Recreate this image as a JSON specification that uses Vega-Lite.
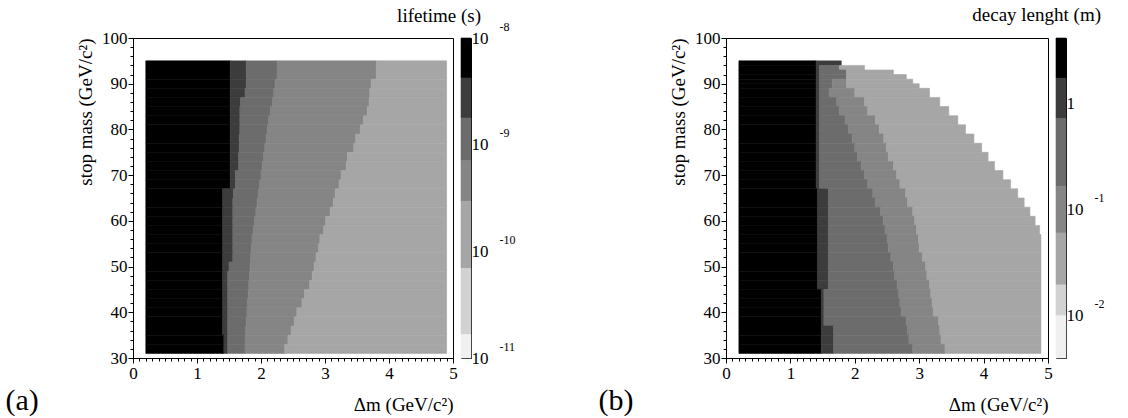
{
  "$schema": "https://vega.github.io/schema/vega-lite/v6.json",
  "background": "white",
  "padding": 5,
  "config": {
    "font": "Liberation Serif",
    "view": {"stroke": "#000", "strokeWidth": 1},
    "axis": {"labelFont": "Liberation Serif", "titleFont": "Liberation Serif", "labelColor": "#000", "titleColor": "#000", "domainColor": "#000", "tickColor": "#000", "grid": false, "titleFontWeight": "normal", "labelFontSize": 17, "titleFontSize": 19},
    "title": {"font": "Liberation Serif", "fontWeight": "normal", "color": "#000"}
  },
  "datasets": {
    "cells": [
      {"p":"a","m1":93,"m2":95,"x1":0.2,"x2":1.52,"l":1},{"p":"a","m1":93,"m2":95,"x1":1.52,"x2":1.77,"l":2},{"p":"a","m1":93,"m2":95,"x1":1.77,"x2":2.25,"l":3},{"p":"a","m1":93,"m2":95,"x1":2.25,"x2":3.8,"l":4},{"p":"a","m1":93,"m2":95,"x1":3.8,"x2":4.9,"l":5},
      {"p":"a","m1":91,"m2":93,"x1":0.2,"x2":1.52,"l":1},{"p":"a","m1":91,"m2":93,"x1":1.52,"x2":1.77,"l":2},{"p":"a","m1":91,"m2":93,"x1":1.77,"x2":2.25,"l":3},{"p":"a","m1":91,"m2":93,"x1":2.25,"x2":3.8,"l":4},{"p":"a","m1":91,"m2":93,"x1":3.8,"x2":4.9,"l":5},
      {"p":"a","m1":89,"m2":91,"x1":0.2,"x2":1.52,"l":1},{"p":"a","m1":89,"m2":91,"x1":1.52,"x2":1.77,"l":2},{"p":"a","m1":89,"m2":91,"x1":1.77,"x2":2.22,"l":3},{"p":"a","m1":89,"m2":91,"x1":2.22,"x2":3.72,"l":4},{"p":"a","m1":89,"m2":91,"x1":3.72,"x2":4.9,"l":5},
      {"p":"a","m1":87,"m2":89,"x1":0.2,"x2":1.52,"l":1},{"p":"a","m1":87,"m2":89,"x1":1.52,"x2":1.75,"l":2},{"p":"a","m1":87,"m2":89,"x1":1.75,"x2":2.2,"l":3},{"p":"a","m1":87,"m2":89,"x1":2.2,"x2":3.7,"l":4},{"p":"a","m1":87,"m2":89,"x1":3.7,"x2":4.9,"l":5},
      {"p":"a","m1":85,"m2":87,"x1":0.2,"x2":1.52,"l":1},{"p":"a","m1":85,"m2":87,"x1":1.52,"x2":1.68,"l":2},{"p":"a","m1":85,"m2":87,"x1":1.68,"x2":2.18,"l":3},{"p":"a","m1":85,"m2":87,"x1":2.18,"x2":3.69,"l":4},{"p":"a","m1":85,"m2":87,"x1":3.69,"x2":4.9,"l":5},
      {"p":"a","m1":83,"m2":85,"x1":0.2,"x2":1.52,"l":1},{"p":"a","m1":83,"m2":85,"x1":1.52,"x2":1.67,"l":2},{"p":"a","m1":83,"m2":85,"x1":1.67,"x2":2.15,"l":3},{"p":"a","m1":83,"m2":85,"x1":2.15,"x2":3.66,"l":4},{"p":"a","m1":83,"m2":85,"x1":3.66,"x2":4.9,"l":5},
      {"p":"a","m1":81,"m2":83,"x1":0.2,"x2":1.52,"l":1},{"p":"a","m1":81,"m2":83,"x1":1.52,"x2":1.67,"l":2},{"p":"a","m1":81,"m2":83,"x1":1.67,"x2":2.12,"l":3},{"p":"a","m1":81,"m2":83,"x1":2.12,"x2":3.6,"l":4},{"p":"a","m1":81,"m2":83,"x1":3.6,"x2":4.9,"l":5},
      {"p":"a","m1":79,"m2":81,"x1":0.2,"x2":1.52,"l":1},{"p":"a","m1":79,"m2":81,"x1":1.52,"x2":1.67,"l":2},{"p":"a","m1":79,"m2":81,"x1":1.67,"x2":2.1,"l":3},{"p":"a","m1":79,"m2":81,"x1":2.1,"x2":3.55,"l":4},{"p":"a","m1":79,"m2":81,"x1":3.55,"x2":4.9,"l":5},
      {"p":"a","m1":77,"m2":79,"x1":0.2,"x2":1.52,"l":1},{"p":"a","m1":77,"m2":79,"x1":1.52,"x2":1.66,"l":2},{"p":"a","m1":77,"m2":79,"x1":1.66,"x2":2.08,"l":3},{"p":"a","m1":77,"m2":79,"x1":2.08,"x2":3.48,"l":4},{"p":"a","m1":77,"m2":79,"x1":3.48,"x2":4.9,"l":5},
      {"p":"a","m1":75,"m2":77,"x1":0.2,"x2":1.52,"l":1},{"p":"a","m1":75,"m2":77,"x1":1.52,"x2":1.66,"l":2},{"p":"a","m1":75,"m2":77,"x1":1.66,"x2":2.06,"l":3},{"p":"a","m1":75,"m2":77,"x1":2.06,"x2":3.45,"l":4},{"p":"a","m1":75,"m2":77,"x1":3.45,"x2":4.9,"l":5},
      {"p":"a","m1":73,"m2":75,"x1":0.2,"x2":1.52,"l":1},{"p":"a","m1":73,"m2":75,"x1":1.52,"x2":1.65,"l":2},{"p":"a","m1":73,"m2":75,"x1":1.65,"x2":2.04,"l":3},{"p":"a","m1":73,"m2":75,"x1":2.04,"x2":3.35,"l":4},{"p":"a","m1":73,"m2":75,"x1":3.35,"x2":4.9,"l":5},
      {"p":"a","m1":71,"m2":73,"x1":0.2,"x2":1.52,"l":1},{"p":"a","m1":71,"m2":73,"x1":1.52,"x2":1.65,"l":2},{"p":"a","m1":71,"m2":73,"x1":1.65,"x2":2.02,"l":3},{"p":"a","m1":71,"m2":73,"x1":2.02,"x2":3.33,"l":4},{"p":"a","m1":71,"m2":73,"x1":3.33,"x2":4.9,"l":5},
      {"p":"a","m1":69,"m2":71,"x1":0.2,"x2":1.52,"l":1},{"p":"a","m1":69,"m2":71,"x1":1.52,"x2":1.6,"l":2},{"p":"a","m1":69,"m2":71,"x1":1.6,"x2":2.0,"l":3},{"p":"a","m1":69,"m2":71,"x1":2.0,"x2":3.25,"l":4},{"p":"a","m1":69,"m2":71,"x1":3.25,"x2":4.9,"l":5},
      {"p":"a","m1":67,"m2":69,"x1":0.2,"x2":1.52,"l":1},{"p":"a","m1":67,"m2":69,"x1":1.52,"x2":1.6,"l":2},{"p":"a","m1":67,"m2":69,"x1":1.6,"x2":1.98,"l":3},{"p":"a","m1":67,"m2":69,"x1":1.98,"x2":3.22,"l":4},{"p":"a","m1":67,"m2":69,"x1":3.22,"x2":4.9,"l":5},
      {"p":"a","m1":65,"m2":67,"x1":0.2,"x2":1.4,"l":1},{"p":"a","m1":65,"m2":67,"x1":1.4,"x2":1.57,"l":2},{"p":"a","m1":65,"m2":67,"x1":1.57,"x2":1.96,"l":3},{"p":"a","m1":65,"m2":67,"x1":1.96,"x2":3.16,"l":4},{"p":"a","m1":65,"m2":67,"x1":3.16,"x2":4.9,"l":5},
      {"p":"a","m1":63,"m2":65,"x1":0.2,"x2":1.4,"l":1},{"p":"a","m1":63,"m2":65,"x1":1.4,"x2":1.56,"l":2},{"p":"a","m1":63,"m2":65,"x1":1.56,"x2":1.94,"l":3},{"p":"a","m1":63,"m2":65,"x1":1.94,"x2":3.13,"l":4},{"p":"a","m1":63,"m2":65,"x1":3.13,"x2":4.9,"l":5},
      {"p":"a","m1":61,"m2":63,"x1":0.2,"x2":1.4,"l":1},{"p":"a","m1":61,"m2":63,"x1":1.4,"x2":1.56,"l":2},{"p":"a","m1":61,"m2":63,"x1":1.56,"x2":1.92,"l":3},{"p":"a","m1":61,"m2":63,"x1":1.92,"x2":3.08,"l":4},{"p":"a","m1":61,"m2":63,"x1":3.08,"x2":4.9,"l":5},
      {"p":"a","m1":59,"m2":61,"x1":0.2,"x2":1.4,"l":1},{"p":"a","m1":59,"m2":61,"x1":1.4,"x2":1.56,"l":2},{"p":"a","m1":59,"m2":61,"x1":1.56,"x2":1.9,"l":3},{"p":"a","m1":59,"m2":61,"x1":1.9,"x2":3.01,"l":4},{"p":"a","m1":59,"m2":61,"x1":3.01,"x2":4.9,"l":5},
      {"p":"a","m1":57,"m2":59,"x1":0.2,"x2":1.4,"l":1},{"p":"a","m1":57,"m2":59,"x1":1.4,"x2":1.56,"l":2},{"p":"a","m1":57,"m2":59,"x1":1.56,"x2":1.88,"l":3},{"p":"a","m1":57,"m2":59,"x1":1.88,"x2":2.98,"l":4},{"p":"a","m1":57,"m2":59,"x1":2.98,"x2":4.9,"l":5},
      {"p":"a","m1":55,"m2":57,"x1":0.2,"x2":1.4,"l":1},{"p":"a","m1":55,"m2":57,"x1":1.4,"x2":1.56,"l":2},{"p":"a","m1":55,"m2":57,"x1":1.56,"x2":1.86,"l":3},{"p":"a","m1":55,"m2":57,"x1":1.86,"x2":2.92,"l":4},{"p":"a","m1":55,"m2":57,"x1":2.92,"x2":4.9,"l":5},
      {"p":"a","m1":53,"m2":55,"x1":0.2,"x2":1.4,"l":1},{"p":"a","m1":53,"m2":55,"x1":1.4,"x2":1.56,"l":2},{"p":"a","m1":53,"m2":55,"x1":1.56,"x2":1.85,"l":3},{"p":"a","m1":53,"m2":55,"x1":1.85,"x2":2.9,"l":4},{"p":"a","m1":53,"m2":55,"x1":2.9,"x2":4.9,"l":5},
      {"p":"a","m1":51,"m2":53,"x1":0.2,"x2":1.4,"l":1},{"p":"a","m1":51,"m2":53,"x1":1.4,"x2":1.56,"l":2},{"p":"a","m1":51,"m2":53,"x1":1.56,"x2":1.84,"l":3},{"p":"a","m1":51,"m2":53,"x1":1.84,"x2":2.86,"l":4},{"p":"a","m1":51,"m2":53,"x1":2.86,"x2":4.9,"l":5},
      {"p":"a","m1":49,"m2":51,"x1":0.2,"x2":1.4,"l":1},{"p":"a","m1":49,"m2":51,"x1":1.4,"x2":1.5,"l":2},{"p":"a","m1":49,"m2":51,"x1":1.5,"x2":1.83,"l":3},{"p":"a","m1":49,"m2":51,"x1":1.83,"x2":2.83,"l":4},{"p":"a","m1":49,"m2":51,"x1":2.83,"x2":4.9,"l":5},
      {"p":"a","m1":47,"m2":49,"x1":0.2,"x2":1.4,"l":1},{"p":"a","m1":47,"m2":49,"x1":1.4,"x2":1.48,"l":2},{"p":"a","m1":47,"m2":49,"x1":1.48,"x2":1.82,"l":3},{"p":"a","m1":47,"m2":49,"x1":1.82,"x2":2.8,"l":4},{"p":"a","m1":47,"m2":49,"x1":2.8,"x2":4.9,"l":5},
      {"p":"a","m1":45,"m2":47,"x1":0.2,"x2":1.4,"l":1},{"p":"a","m1":45,"m2":47,"x1":1.4,"x2":1.48,"l":2},{"p":"a","m1":45,"m2":47,"x1":1.48,"x2":1.81,"l":3},{"p":"a","m1":45,"m2":47,"x1":1.81,"x2":2.76,"l":4},{"p":"a","m1":45,"m2":47,"x1":2.76,"x2":4.9,"l":5},
      {"p":"a","m1":43,"m2":45,"x1":0.2,"x2":1.4,"l":1},{"p":"a","m1":43,"m2":45,"x1":1.4,"x2":1.48,"l":2},{"p":"a","m1":43,"m2":45,"x1":1.48,"x2":1.8,"l":3},{"p":"a","m1":43,"m2":45,"x1":1.8,"x2":2.68,"l":4},{"p":"a","m1":43,"m2":45,"x1":2.68,"x2":4.9,"l":5},
      {"p":"a","m1":41,"m2":43,"x1":0.2,"x2":1.4,"l":1},{"p":"a","m1":41,"m2":43,"x1":1.4,"x2":1.48,"l":2},{"p":"a","m1":41,"m2":43,"x1":1.48,"x2":1.79,"l":3},{"p":"a","m1":41,"m2":43,"x1":1.79,"x2":2.64,"l":4},{"p":"a","m1":41,"m2":43,"x1":2.64,"x2":4.9,"l":5},
      {"p":"a","m1":39,"m2":41,"x1":0.2,"x2":1.4,"l":1},{"p":"a","m1":39,"m2":41,"x1":1.4,"x2":1.48,"l":2},{"p":"a","m1":39,"m2":41,"x1":1.48,"x2":1.78,"l":3},{"p":"a","m1":39,"m2":41,"x1":1.78,"x2":2.56,"l":4},{"p":"a","m1":39,"m2":41,"x1":2.56,"x2":4.9,"l":5},
      {"p":"a","m1":37,"m2":39,"x1":0.2,"x2":1.4,"l":1},{"p":"a","m1":37,"m2":39,"x1":1.4,"x2":1.48,"l":2},{"p":"a","m1":37,"m2":39,"x1":1.48,"x2":1.77,"l":3},{"p":"a","m1":37,"m2":39,"x1":1.77,"x2":2.52,"l":4},{"p":"a","m1":37,"m2":39,"x1":2.52,"x2":4.9,"l":5},
      {"p":"a","m1":35,"m2":37,"x1":0.2,"x2":1.4,"l":1},{"p":"a","m1":35,"m2":37,"x1":1.4,"x2":1.48,"l":2},{"p":"a","m1":35,"m2":37,"x1":1.48,"x2":1.76,"l":3},{"p":"a","m1":35,"m2":37,"x1":1.76,"x2":2.47,"l":4},{"p":"a","m1":35,"m2":37,"x1":2.47,"x2":4.9,"l":5},
      {"p":"a","m1":33,"m2":35,"x1":0.2,"x2":1.42,"l":1},{"p":"a","m1":33,"m2":35,"x1":1.42,"x2":1.48,"l":2},{"p":"a","m1":33,"m2":35,"x1":1.48,"x2":1.75,"l":3},{"p":"a","m1":33,"m2":35,"x1":1.75,"x2":2.42,"l":4},{"p":"a","m1":33,"m2":35,"x1":2.42,"x2":4.9,"l":5},
      {"p":"a","m1":31,"m2":33,"x1":0.2,"x2":1.42,"l":1},{"p":"a","m1":31,"m2":33,"x1":1.42,"x2":1.48,"l":2},{"p":"a","m1":31,"m2":33,"x1":1.48,"x2":1.75,"l":3},{"p":"a","m1":31,"m2":33,"x1":1.75,"x2":2.37,"l":4},{"p":"a","m1":31,"m2":33,"x1":2.37,"x2":4.9,"l":5},

      {"p":"b","m1":94,"m2":95,"x1":0.2,"x2":1.4,"l":1},{"p":"b","m1":94,"m2":95,"x1":1.4,"x2":1.79,"l":2},
      {"p":"b","m1":93,"m2":94,"x1":0.2,"x2":1.4,"l":1},{"p":"b","m1":93,"m2":94,"x1":1.4,"x2":1.45,"l":2},{"p":"b","m1":93,"m2":94,"x1":1.45,"x2":1.76,"l":3},{"p":"b","m1":93,"m2":94,"x1":1.76,"x2":2.15,"l":5},
      {"p":"b","m1":92,"m2":93,"x1":0.2,"x2":1.4,"l":1},{"p":"b","m1":92,"m2":93,"x1":1.4,"x2":1.45,"l":2},{"p":"b","m1":92,"m2":93,"x1":1.45,"x2":1.87,"l":3},{"p":"b","m1":92,"m2":93,"x1":1.87,"x2":2.6,"l":5},
      {"p":"b","m1":91,"m2":92,"x1":0.2,"x2":1.4,"l":1},{"p":"b","m1":91,"m2":92,"x1":1.4,"x2":1.45,"l":2},{"p":"b","m1":91,"m2":92,"x1":1.45,"x2":1.87,"l":3},{"p":"b","m1":91,"m2":92,"x1":1.87,"x2":2.8,"l":5},
      {"p":"b","m1":90,"m2":91,"x1":0.2,"x2":1.4,"l":1},{"p":"b","m1":90,"m2":91,"x1":1.4,"x2":1.45,"l":2},{"p":"b","m1":90,"m2":91,"x1":1.45,"x2":1.65,"l":3},{"p":"b","m1":90,"m2":91,"x1":1.65,"x2":1.87,"l":4},{"p":"b","m1":90,"m2":91,"x1":1.87,"x2":2.9,"l":5},
      {"p":"b","m1":89,"m2":90,"x1":0.2,"x2":1.4,"l":1},{"p":"b","m1":89,"m2":90,"x1":1.4,"x2":1.45,"l":2},{"p":"b","m1":89,"m2":90,"x1":1.45,"x2":1.65,"l":3},{"p":"b","m1":89,"m2":90,"x1":1.65,"x2":1.87,"l":4},{"p":"b","m1":89,"m2":90,"x1":1.87,"x2":3.0,"l":5},
      {"p":"b","m1":87,"m2":89,"x1":0.2,"x2":1.4,"l":1},{"p":"b","m1":87,"m2":89,"x1":1.4,"x2":1.45,"l":2},{"p":"b","m1":87,"m2":89,"x1":1.45,"x2":1.6,"l":3},{"p":"b","m1":87,"m2":89,"x1":1.6,"x2":2.0,"l":4},{"p":"b","m1":87,"m2":89,"x1":2.0,"x2":3.16,"l":5},
      {"p":"b","m1":85,"m2":87,"x1":0.2,"x2":1.4,"l":1},{"p":"b","m1":85,"m2":87,"x1":1.4,"x2":1.45,"l":2},{"p":"b","m1":85,"m2":87,"x1":1.45,"x2":1.72,"l":3},{"p":"b","m1":85,"m2":87,"x1":1.72,"x2":2.15,"l":4},{"p":"b","m1":85,"m2":87,"x1":2.15,"x2":3.32,"l":5},
      {"p":"b","m1":83,"m2":85,"x1":0.2,"x2":1.4,"l":1},{"p":"b","m1":83,"m2":85,"x1":1.4,"x2":1.45,"l":2},{"p":"b","m1":83,"m2":85,"x1":1.45,"x2":1.76,"l":3},{"p":"b","m1":83,"m2":85,"x1":1.76,"x2":2.2,"l":4},{"p":"b","m1":83,"m2":85,"x1":2.2,"x2":3.46,"l":5},
      {"p":"b","m1":81,"m2":83,"x1":0.2,"x2":1.4,"l":1},{"p":"b","m1":81,"m2":83,"x1":1.4,"x2":1.45,"l":2},{"p":"b","m1":81,"m2":83,"x1":1.45,"x2":1.85,"l":3},{"p":"b","m1":81,"m2":83,"x1":1.85,"x2":2.32,"l":4},{"p":"b","m1":81,"m2":83,"x1":2.32,"x2":3.6,"l":5},
      {"p":"b","m1":79,"m2":81,"x1":0.2,"x2":1.4,"l":1},{"p":"b","m1":79,"m2":81,"x1":1.4,"x2":1.45,"l":2},{"p":"b","m1":79,"m2":81,"x1":1.45,"x2":1.9,"l":3},{"p":"b","m1":79,"m2":81,"x1":1.9,"x2":2.38,"l":4},{"p":"b","m1":79,"m2":81,"x1":2.38,"x2":3.72,"l":5},
      {"p":"b","m1":77,"m2":79,"x1":0.2,"x2":1.4,"l":1},{"p":"b","m1":77,"m2":79,"x1":1.4,"x2":1.45,"l":2},{"p":"b","m1":77,"m2":79,"x1":1.45,"x2":1.96,"l":3},{"p":"b","m1":77,"m2":79,"x1":1.96,"x2":2.45,"l":4},{"p":"b","m1":77,"m2":79,"x1":2.45,"x2":3.85,"l":5},
      {"p":"b","m1":75,"m2":77,"x1":0.2,"x2":1.4,"l":1},{"p":"b","m1":75,"m2":77,"x1":1.4,"x2":1.45,"l":2},{"p":"b","m1":75,"m2":77,"x1":1.45,"x2":2.0,"l":3},{"p":"b","m1":75,"m2":77,"x1":2.0,"x2":2.49,"l":4},{"p":"b","m1":75,"m2":77,"x1":2.49,"x2":3.97,"l":5},
      {"p":"b","m1":73,"m2":75,"x1":0.2,"x2":1.4,"l":1},{"p":"b","m1":73,"m2":75,"x1":1.4,"x2":1.45,"l":2},{"p":"b","m1":73,"m2":75,"x1":1.45,"x2":2.04,"l":3},{"p":"b","m1":73,"m2":75,"x1":2.04,"x2":2.52,"l":4},{"p":"b","m1":73,"m2":75,"x1":2.52,"x2":4.07,"l":5},
      {"p":"b","m1":71,"m2":73,"x1":0.2,"x2":1.4,"l":1},{"p":"b","m1":71,"m2":73,"x1":1.4,"x2":1.45,"l":2},{"p":"b","m1":71,"m2":73,"x1":1.45,"x2":2.1,"l":3},{"p":"b","m1":71,"m2":73,"x1":2.1,"x2":2.6,"l":4},{"p":"b","m1":71,"m2":73,"x1":2.6,"x2":4.17,"l":5},
      {"p":"b","m1":69,"m2":71,"x1":0.2,"x2":1.4,"l":1},{"p":"b","m1":69,"m2":71,"x1":1.4,"x2":1.45,"l":2},{"p":"b","m1":69,"m2":71,"x1":1.45,"x2":2.15,"l":3},{"p":"b","m1":69,"m2":71,"x1":2.15,"x2":2.65,"l":4},{"p":"b","m1":69,"m2":71,"x1":2.65,"x2":4.3,"l":5},
      {"p":"b","m1":67,"m2":69,"x1":0.2,"x2":1.4,"l":1},{"p":"b","m1":67,"m2":69,"x1":1.4,"x2":1.45,"l":2},{"p":"b","m1":67,"m2":69,"x1":1.45,"x2":2.2,"l":3},{"p":"b","m1":67,"m2":69,"x1":2.2,"x2":2.7,"l":4},{"p":"b","m1":67,"m2":69,"x1":2.7,"x2":4.42,"l":5},
      {"p":"b","m1":65,"m2":67,"x1":0.2,"x2":1.42,"l":1},{"p":"b","m1":65,"m2":67,"x1":1.42,"x2":1.59,"l":2},{"p":"b","m1":65,"m2":67,"x1":1.59,"x2":2.28,"l":3},{"p":"b","m1":65,"m2":67,"x1":2.28,"x2":2.79,"l":4},{"p":"b","m1":65,"m2":67,"x1":2.79,"x2":4.53,"l":5},
      {"p":"b","m1":63,"m2":65,"x1":0.2,"x2":1.42,"l":1},{"p":"b","m1":63,"m2":65,"x1":1.42,"x2":1.59,"l":2},{"p":"b","m1":63,"m2":65,"x1":1.59,"x2":2.32,"l":3},{"p":"b","m1":63,"m2":65,"x1":2.32,"x2":2.82,"l":4},{"p":"b","m1":63,"m2":65,"x1":2.82,"x2":4.63,"l":5},
      {"p":"b","m1":61,"m2":63,"x1":0.2,"x2":1.42,"l":1},{"p":"b","m1":61,"m2":63,"x1":1.42,"x2":1.59,"l":2},{"p":"b","m1":61,"m2":63,"x1":1.59,"x2":2.4,"l":3},{"p":"b","m1":61,"m2":63,"x1":2.4,"x2":2.9,"l":4},{"p":"b","m1":61,"m2":63,"x1":2.9,"x2":4.72,"l":5},
      {"p":"b","m1":59,"m2":61,"x1":0.2,"x2":1.42,"l":1},{"p":"b","m1":59,"m2":61,"x1":1.42,"x2":1.59,"l":2},{"p":"b","m1":59,"m2":61,"x1":1.59,"x2":2.44,"l":3},{"p":"b","m1":59,"m2":61,"x1":2.44,"x2":2.93,"l":4},{"p":"b","m1":59,"m2":61,"x1":2.93,"x2":4.8,"l":5},
      {"p":"b","m1":57,"m2":59,"x1":0.2,"x2":1.42,"l":1},{"p":"b","m1":57,"m2":59,"x1":1.42,"x2":1.59,"l":2},{"p":"b","m1":57,"m2":59,"x1":1.59,"x2":2.47,"l":3},{"p":"b","m1":57,"m2":59,"x1":2.47,"x2":2.96,"l":4},{"p":"b","m1":57,"m2":59,"x1":2.96,"x2":4.87,"l":5},
      {"p":"b","m1":55,"m2":57,"x1":0.2,"x2":1.42,"l":1},{"p":"b","m1":55,"m2":57,"x1":1.42,"x2":1.59,"l":2},{"p":"b","m1":55,"m2":57,"x1":1.59,"x2":2.5,"l":3},{"p":"b","m1":55,"m2":57,"x1":2.5,"x2":2.99,"l":4},{"p":"b","m1":55,"m2":57,"x1":2.99,"x2":4.89,"l":5},
      {"p":"b","m1":53,"m2":55,"x1":0.2,"x2":1.42,"l":1},{"p":"b","m1":53,"m2":55,"x1":1.42,"x2":1.59,"l":2},{"p":"b","m1":53,"m2":55,"x1":1.59,"x2":2.52,"l":3},{"p":"b","m1":53,"m2":55,"x1":2.52,"x2":3.0,"l":4},{"p":"b","m1":53,"m2":55,"x1":3.0,"x2":4.89,"l":5},
      {"p":"b","m1":51,"m2":53,"x1":0.2,"x2":1.42,"l":1},{"p":"b","m1":51,"m2":53,"x1":1.42,"x2":1.59,"l":2},{"p":"b","m1":51,"m2":53,"x1":1.59,"x2":2.56,"l":3},{"p":"b","m1":51,"m2":53,"x1":2.56,"x2":3.05,"l":4},{"p":"b","m1":51,"m2":53,"x1":3.05,"x2":4.89,"l":5},
      {"p":"b","m1":49,"m2":51,"x1":0.2,"x2":1.42,"l":1},{"p":"b","m1":49,"m2":51,"x1":1.42,"x2":1.59,"l":2},{"p":"b","m1":49,"m2":51,"x1":1.59,"x2":2.6,"l":3},{"p":"b","m1":49,"m2":51,"x1":2.6,"x2":3.1,"l":4},{"p":"b","m1":49,"m2":51,"x1":3.1,"x2":4.89,"l":5},
      {"p":"b","m1":47,"m2":49,"x1":0.2,"x2":1.42,"l":1},{"p":"b","m1":47,"m2":49,"x1":1.42,"x2":1.59,"l":2},{"p":"b","m1":47,"m2":49,"x1":1.59,"x2":2.62,"l":3},{"p":"b","m1":47,"m2":49,"x1":2.62,"x2":3.12,"l":4},{"p":"b","m1":47,"m2":49,"x1":3.12,"x2":4.89,"l":5},
      {"p":"b","m1":45,"m2":47,"x1":0.2,"x2":1.42,"l":1},{"p":"b","m1":45,"m2":47,"x1":1.42,"x2":1.59,"l":2},{"p":"b","m1":45,"m2":47,"x1":1.59,"x2":2.66,"l":3},{"p":"b","m1":45,"m2":47,"x1":2.66,"x2":3.16,"l":4},{"p":"b","m1":45,"m2":47,"x1":3.16,"x2":4.89,"l":5},
      {"p":"b","m1":43,"m2":45,"x1":0.2,"x2":1.48,"l":1},{"p":"b","m1":43,"m2":45,"x1":1.48,"x2":1.52,"l":2},{"p":"b","m1":43,"m2":45,"x1":1.52,"x2":2.68,"l":3},{"p":"b","m1":43,"m2":45,"x1":2.68,"x2":3.18,"l":4},{"p":"b","m1":43,"m2":45,"x1":3.18,"x2":4.89,"l":5},
      {"p":"b","m1":41,"m2":43,"x1":0.2,"x2":1.48,"l":1},{"p":"b","m1":41,"m2":43,"x1":1.48,"x2":1.52,"l":2},{"p":"b","m1":41,"m2":43,"x1":1.52,"x2":2.7,"l":3},{"p":"b","m1":41,"m2":43,"x1":2.7,"x2":3.2,"l":4},{"p":"b","m1":41,"m2":43,"x1":3.2,"x2":4.89,"l":5},
      {"p":"b","m1":39,"m2":41,"x1":0.2,"x2":1.48,"l":1},{"p":"b","m1":39,"m2":41,"x1":1.48,"x2":1.52,"l":2},{"p":"b","m1":39,"m2":41,"x1":1.52,"x2":2.72,"l":3},{"p":"b","m1":39,"m2":41,"x1":2.72,"x2":3.22,"l":4},{"p":"b","m1":39,"m2":41,"x1":3.22,"x2":4.89,"l":5},
      {"p":"b","m1":37,"m2":39,"x1":0.2,"x2":1.48,"l":1},{"p":"b","m1":37,"m2":39,"x1":1.48,"x2":1.52,"l":2},{"p":"b","m1":37,"m2":39,"x1":1.52,"x2":2.8,"l":3},{"p":"b","m1":37,"m2":39,"x1":2.8,"x2":3.3,"l":4},{"p":"b","m1":37,"m2":39,"x1":3.3,"x2":4.89,"l":5},
      {"p":"b","m1":35,"m2":37,"x1":0.2,"x2":1.48,"l":1},{"p":"b","m1":35,"m2":37,"x1":1.48,"x2":1.67,"l":2},{"p":"b","m1":35,"m2":37,"x1":1.67,"x2":2.82,"l":3},{"p":"b","m1":35,"m2":37,"x1":2.82,"x2":3.32,"l":4},{"p":"b","m1":35,"m2":37,"x1":3.32,"x2":4.89,"l":5},
      {"p":"b","m1":33,"m2":35,"x1":0.2,"x2":1.48,"l":1},{"p":"b","m1":33,"m2":35,"x1":1.48,"x2":1.67,"l":2},{"p":"b","m1":33,"m2":35,"x1":1.67,"x2":2.84,"l":3},{"p":"b","m1":33,"m2":35,"x1":2.84,"x2":3.34,"l":4},{"p":"b","m1":33,"m2":35,"x1":3.34,"x2":4.89,"l":5},
      {"p":"b","m1":31,"m2":33,"x1":0.2,"x2":1.48,"l":1},{"p":"b","m1":31,"m2":33,"x1":1.48,"x2":1.67,"l":2},{"p":"b","m1":31,"m2":33,"x1":1.67,"x2":2.9,"l":3},{"p":"b","m1":31,"m2":33,"x1":2.9,"x2":3.4,"l":4},{"p":"b","m1":31,"m2":33,"x1":3.4,"x2":4.89,"l":5}
    ],
    "bar": [
      {"p":"a","lo":-8.375,"hi":-8,"l":1},{"p":"a","lo":-8.75,"hi":-8.375,"l":2},{"p":"a","lo":-9.15,"hi":-8.75,"l":3},{"p":"a","lo":-9.53,"hi":-9.15,"l":4},{"p":"a","lo":-10.16,"hi":-9.53,"l":5},{"p":"a","lo":-10.78,"hi":-10.16,"l":6},{"p":"a","lo":-11,"hi":-10.78,"l":7},
      {"p":"b","lo":0.24,"hi":0.62,"l":1},{"p":"b","lo":-0.14,"hi":0.24,"l":2},{"p":"b","lo":-0.78,"hi":-0.14,"l":3},{"p":"b","lo":-1.22,"hi":-0.78,"l":4},{"p":"b","lo":-1.71,"hi":-1.22,"l":5},{"p":"b","lo":-2.0,"hi":-1.71,"l":6},{"p":"b","lo":-2.4,"hi":-2.0,"l":7}
    ]
  },
  "bounds": "flush",
  "spacing": 8,
  "hconcat": [
    {
      "width": 320, "height": 320,
      "title": {"text": "(a)", "orient": "bottom", "anchor": "start", "frame": "bounds", "fontSize": 30, "offset": -28, "dx": -71},
      "data": {"name": "cells"},
      "transform": [{"filter": "datum.p == 'a'"}],
      "mark": {"type": "rect", "strokeWidth": 0.6},
      "encoding": {
        "x": {"field": "x1", "type": "quantitative", "scale": {"domain": [0, 5], "nice": false, "zero": false},
              "axis": {"orient": "bottom", "values": [0,0.1,0.2,0.3,0.4,0.5,0.6,0.7,0.8,0.9,1,1.1,1.2,1.3,1.4,1.5,1.6,1.7,1.8,1.9,2,2.1,2.2,2.3,2.4,2.5,2.6,2.7,2.8,2.9,3,3.1,3.2,3.3,3.4,3.5,3.6,3.7,3.8,3.9,4,4.1,4.2,4.3,4.4,4.5,4.6,4.7,4.8,4.9,5],
                       "labelExpr": "datum.value == round(datum.value) ? format(datum.value, 'd') : ''", "labelOverlap": false, "labelFlush": false,
                       "tickSize": {"condition": {"test": "datum.value == round(datum.value)", "value": 5}, "value": 3},
                       "title": "Δm (GeV/c²)", "titleAnchor": "end", "labelPadding": 2, "titlePadding": 14}},
        "x2": {"field": "x2"},
        "y": {"field": "m1", "type": "quantitative", "scale": {"domain": [30, 100], "nice": false, "zero": false},
              "axis": {"orient": "left", "values": [30,32,34,36,38,40,42,44,46,48,50,52,54,56,58,60,62,64,66,68,70,72,74,76,78,80,82,84,86,88,90,92,94,96,98,100],
                       "labelExpr": "datum.value % 10 == 0 ? format(datum.value, 'd') : ''", "labelOverlap": false, "labelFlush": false,
                       "tickSize": {"condition": {"test": "datum.value % 10 == 0", "value": 5}, "value": 3},
                       "title": "stop mass (GeV/c²)", "titleAnchor": "end", "labelPadding": 1, "titlePadding": 6}},
        "y2": {"field": "m2"},
        "color": {"field": "l", "type": "ordinal", "scale": {"domain": [1,2,3,4,5,6,7], "range": ["#000000","#3c3c3c","#6c6c6c","#858585","#a6a6a6","#d2d2d2","#f0f0f0"]}, "legend": null},
        "stroke": {"field": "l", "type": "ordinal", "scale": {"domain": [1,2,3,4,5,6,7], "range": ["#000000","#3c3c3c","#6c6c6c","#858585","#a6a6a6","#d2d2d2","#f0f0f0"]}, "legend": null}
      }
    },
    {
      "width": 10, "height": 320,
      "title": {"text": "lifetime (s)", "anchor": "end", "frame": "group", "fontSize": 19, "dx": 10, "offset": -6},
      "data": {"name": "bar"},
      "transform": [{"filter": "datum.p == 'a'"}],
      "layer": [
        {"mark": {"type": "rect", "strokeWidth": 0.6},
         "encoding": {
           "x": {"datum": 0, "type": "quantitative", "scale": {"domain": [0, 1], "nice": false, "zero": false}, "axis": null},
           "x2": {"datum": 1},
           "y": {"field": "lo", "type": "quantitative", "scale": {"domain": [-11, -8], "nice": false, "zero": false},
                 "axis": {"orient": "right", "values": [-8,-9,-10,-11], "labelExpr": "'10'", "tickSize": 0, "domain": false, "labelPadding": 0, "title": null, "labelFontSize": 17}},
           "y2": {"field": "hi"},
           "color": {"field": "l", "type": "ordinal", "scale": {"domain": [1,2,3,4,5,6,7], "range": ["#000000","#3c3c3c","#6c6c6c","#858585","#a6a6a6","#d2d2d2","#f0f0f0"]}, "legend": null},
           "stroke": {"field": "l", "type": "ordinal", "scale": {"domain": [1,2,3,4,5,6,7], "range": ["#000000","#3c3c3c","#6c6c6c","#858585","#a6a6a6","#d2d2d2","#f0f0f0"]}, "legend": null}
         }},
        {"mark": {"type": "point", "opacity": 0},
         "encoding": {
           "x": {"datum": 0, "type": "quantitative", "axis": null},
           "y": {"field": "lo", "type": "quantitative",
                 "axis": {"orient": "right", "values": [-8,-9,-10,-11], "labelExpr": "'-' + abs(datum.value)", "tickSize": 0, "domain": false, "offset": 28, "labelOffset": -12, "labelPadding": 0, "labelFontSize": 12, "title": null}}
         }}
      ],
      "resolve": {"axis": {"y": "independent"}}
    },
    {
      "width": 239, "height": 320,
      "view": {"stroke": null},
      "data": {"values": []},
      "mark": "rect",
      "encoding": {}
    },
    {
      "width": 322, "height": 320,
      "title": {"text": "(b)", "orient": "bottom", "anchor": "start", "frame": "bounds", "fontSize": 30, "offset": -28, "dx": -71},
      "data": {"name": "cells"},
      "transform": [{"filter": "datum.p == 'b'"}],
      "mark": {"type": "rect", "strokeWidth": 0.6},
      "encoding": {
        "x": {"field": "x1", "type": "quantitative", "scale": {"domain": [0, 5], "nice": false, "zero": false},
              "axis": {"orient": "bottom", "values": [0,0.1,0.2,0.3,0.4,0.5,0.6,0.7,0.8,0.9,1,1.1,1.2,1.3,1.4,1.5,1.6,1.7,1.8,1.9,2,2.1,2.2,2.3,2.4,2.5,2.6,2.7,2.8,2.9,3,3.1,3.2,3.3,3.4,3.5,3.6,3.7,3.8,3.9,4,4.1,4.2,4.3,4.4,4.5,4.6,4.7,4.8,4.9,5],
                       "labelExpr": "datum.value == round(datum.value) ? format(datum.value, 'd') : ''", "labelOverlap": false, "labelFlush": false,
                       "tickSize": {"condition": {"test": "datum.value == round(datum.value)", "value": 5}, "value": 3},
                       "title": "Δm (GeV/c²)", "titleAnchor": "end", "labelPadding": 2, "titlePadding": 14}},
        "x2": {"field": "x2"},
        "y": {"field": "m1", "type": "quantitative", "scale": {"domain": [30, 100], "nice": false, "zero": false},
              "axis": {"orient": "left", "values": [30,32,34,36,38,40,42,44,46,48,50,52,54,56,58,60,62,64,66,68,70,72,74,76,78,80,82,84,86,88,90,92,94,96,98,100],
                       "labelExpr": "datum.value % 10 == 0 ? format(datum.value, 'd') : ''", "labelOverlap": false, "labelFlush": false,
                       "tickSize": {"condition": {"test": "datum.value % 10 == 0", "value": 5}, "value": 3},
                       "title": "stop mass (GeV/c²)", "titleAnchor": "end", "labelPadding": 1, "titlePadding": 6}},
        "y2": {"field": "m2"},
        "color": {"field": "l", "type": "ordinal", "scale": {"domain": [1,2,3,4,5,6,7], "range": ["#000000","#3c3c3c","#6c6c6c","#858585","#a6a6a6","#d2d2d2","#f0f0f0"]}, "legend": null},
        "stroke": {"field": "l", "type": "ordinal", "scale": {"domain": [1,2,3,4,5,6,7], "range": ["#000000","#3c3c3c","#6c6c6c","#858585","#a6a6a6","#d2d2d2","#f0f0f0"]}, "legend": null}
      }
    },
    {
      "width": 10, "height": 320,
      "title": {"text": "decay lenght (m)", "anchor": "end", "frame": "group", "fontSize": 19, "dx": 35, "offset": 13},
      "data": {"name": "bar"},
      "transform": [{"filter": "datum.p == 'b'"}],
      "layer": [
        {"mark": {"type": "rect", "strokeWidth": 0.6},
         "encoding": {
           "x": {"datum": 0, "type": "quantitative", "scale": {"domain": [0, 1], "nice": false, "zero": false}, "axis": null},
           "x2": {"datum": 1},
           "y": {"field": "lo", "type": "quantitative", "scale": {"domain": [-2.4, 0.62], "nice": false, "zero": false},
                 "axis": {"orient": "right", "values": [0,-1,-2], "labelExpr": "datum.value == 0 ? '1' : '10'", "tickSize": 0, "domain": false, "labelPadding": 0, "title": null, "labelFontSize": 17}},
           "y2": {"field": "hi"},
           "color": {"field": "l", "type": "ordinal", "scale": {"domain": [1,2,3,4,5,6,7], "range": ["#000000","#3c3c3c","#6c6c6c","#858585","#a6a6a6","#d2d2d2","#f0f0f0"]}, "legend": null},
           "stroke": {"field": "l", "type": "ordinal", "scale": {"domain": [1,2,3,4,5,6,7], "range": ["#000000","#3c3c3c","#6c6c6c","#858585","#a6a6a6","#d2d2d2","#f0f0f0"]}, "legend": null}
         }},
        {"mark": {"type": "point", "opacity": 0},
         "encoding": {
           "x": {"datum": 0, "type": "quantitative", "axis": null},
           "y": {"field": "lo", "type": "quantitative",
                 "axis": {"orient": "right", "values": [0,-1,-2], "labelExpr": "datum.value == 0 ? '' : '-' + abs(datum.value)", "tickSize": 0, "domain": false, "offset": 28, "labelOffset": -12, "labelPadding": 0, "labelFontSize": 12, "title": null}}
         }}
      ],
      "resolve": {"axis": {"y": "independent"}}
    }
  ]
}
